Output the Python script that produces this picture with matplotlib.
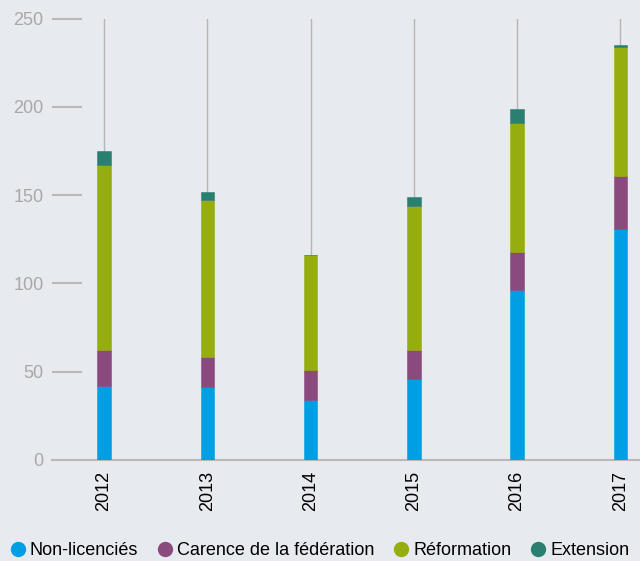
import matplotlib
matplotlib.use("Agg")
import matplotlib.pyplot as plt
from matplotlib.lines import Line2D
import numpy as np

years = ["2012", "2013", "2014", "2015", "2016", "2017"]
non_licencies = [42, 41, 34, 46, 96, 131]
carence = [20, 17, 17, 16, 22, 30]
reformation = [105, 89, 65, 82, 73, 73]
extension = [8, 5, 0, 5, 8, 1]

series_names = ["Non-licenciés", "Carence de la fédération", "Réformation", "Extension"]
colors = ["#009fe3", "#8a4a7d", "#95ad0e", "#2a7f71"]

plt.rcParams['font.family'] = ['Liberation Sans', 'DejaVu Sans']

bg = "#e7eaef"
fig = plt.figure(figsize=(6.4, 5.61), dpi=100, facecolor=bg)
ax = fig.add_axes([52/640, 101.3/561, (640-52)/640, (459.7-18.7)/561])
ax.set_facecolor(bg)

x = np.arange(len(years))
bottom = np.zeros(len(years))
for vals, c in zip([non_licencies, carence, reformation, extension], colors):
    ax.bar(x, vals, width=0.13, bottom=bottom, color=c, edgecolor=c, linewidth=0.4, zorder=3)
    bottom += np.array(vals)

ax.set_xlim(-0.504, 5.19)
ax.set_ylim(0, 250)
ax.set_yticks([0, 50, 100, 150, 200, 250])
ax.set_xticks(x)
ax.set_xticklabels(years, rotation=90, fontsize=13, color="black")
ax.xaxis.grid(True, color="#b5b5b5", linewidth=1, zorder=0)
ax.yaxis.grid(False)

for s in ["top", "right", "left"]:
    ax.spines[s].set_visible(False)
ax.spines["bottom"].set_color("#b9b9b9")
ax.spines["bottom"].set_linewidth(1.5)
ax.tick_params(axis="x", length=0, pad=8)
ax.tick_params(axis="y", direction="in", length=21.6, width=1.5, color="#b9b9b9",
               labelcolor="#a8a8a8", labelsize=13, pad=6)

handles = [Line2D([0], [0], marker="o", linestyle="", markersize=10,
                  markerfacecolor=c, markeredgecolor=c) for c in colors]
fig.legend(handles, series_names, loc="center left", bbox_to_anchor=(0.0, 0.019),
           ncol=4, frameon=False, fontsize=13, handletextpad=0.05,
           columnspacing=0.9, handlelength=1.2, borderaxespad=0)

fig.savefig("out.png", dpi=100, facecolor=bg)
